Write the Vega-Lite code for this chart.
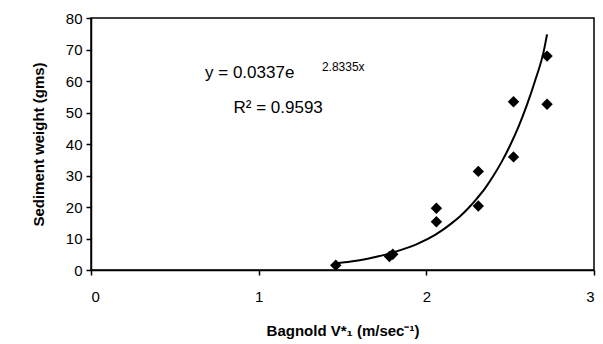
{
  "$schema": "https://vega.github.io/schema/vega-lite/v6.json",
  "autosize": "none",
  "padding": {"left": 91, "top": 18, "right": 9, "bottom": 74},
  "width": 503,
  "height": 252,
  "background": "white",
  "config": {
    "view": {"stroke": "black", "strokeWidth": 1.5},
    "font": "Liberation Sans",
    "axis": {
      "domainColor": "black", "domainWidth": 1.5, "tickColor": "black", "tickWidth": 1.5, "tickSize": 5,
      "labelColor": "black", "labelFontSize": 15, "labelFont": "Liberation Sans", "labelOverlap": false,
      "titleColor": "black", "titleFontSize": 15, "titleFontWeight": "bold", "titleFont": "Liberation Sans",
      "grid": false
    }
  },
  "datasets": {
    "points": [
      {"v": 1.46, "w": 1.5},
      {"v": 1.78, "w": 4.3},
      {"v": 1.80, "w": 5.0},
      {"v": 2.06, "w": 19.6},
      {"v": 2.06, "w": 15.3},
      {"v": 2.31, "w": 31.3},
      {"v": 2.31, "w": 20.3},
      {"v": 2.52, "w": 53.4},
      {"v": 2.52, "w": 35.9},
      {"v": 2.72, "w": 67.9},
      {"v": 2.72, "w": 52.6}
    ],
    "trend": [
      {"v": 1.46, "w": 2.1},
      {"v": 1.55, "w": 2.7},
      {"v": 1.65, "w": 3.6},
      {"v": 1.75, "w": 4.8},
      {"v": 1.85, "w": 6.4},
      {"v": 1.95, "w": 8.4},
      {"v": 2.05, "w": 11.1},
      {"v": 2.10, "w": 12.8},
      {"v": 2.15, "w": 14.8},
      {"v": 2.20, "w": 17.0},
      {"v": 2.25, "w": 19.6},
      {"v": 2.30, "w": 22.6},
      {"v": 2.35, "w": 25.9},
      {"v": 2.40, "w": 29.9},
      {"v": 2.45, "w": 34.4},
      {"v": 2.50, "w": 39.6},
      {"v": 2.55, "w": 45.5},
      {"v": 2.60, "w": 52.4},
      {"v": 2.65, "w": 60.3},
      {"v": 2.70, "w": 69.4},
      {"v": 2.72, "w": 74.8}
    ]
  },
  "layer": [
    {
      "data": {"name": "trend"},
      "mark": {"type": "line", "color": "black", "strokeWidth": 2, "interpolate": "monotone"},
      "encoding": {
        "x": {"field": "v", "type": "quantitative", "scale": {"domain": [0, 3], "nice": false},
              "axis": {"values": [0, 1, 2, 3], "format": "d", "labelPadding": 14, "title": "Bagnold V*₁ (m/sec⁻¹)", "titlePadding": 19}},
        "y": {"field": "w", "type": "quantitative", "scale": {"domain": [0, 80], "nice": false},
              "axis": {"values": [0, 10, 20, 30, 40, 50, 60, 70, 80], "format": "d", "labelPadding": 4, "title": "Sediment weight (gms)", "titlePadding": 19}}
      }
    },
    {
      "data": {"name": "points"},
      "mark": {"type": "point", "shape": "diamond", "filled": true, "color": "black", "size": 130, "opacity": 1},
      "encoding": {
        "x": {"field": "v", "type": "quantitative",
              "axis": {"values": [0, 1, 2, 3], "format": "d", "labelPadding": 14, "title": "Bagnold V*₁ (m/sec⁻¹)", "titlePadding": 19}},
        "y": {"field": "w", "type": "quantitative",
              "axis": {"values": [0, 10, 20, 30, 40, 50, 60, 70, 80], "format": "d", "labelPadding": 4, "title": "Sediment weight (gms)", "titlePadding": 19}}
      }
    },
    {
      "data": {"values": [{"t": "y = 0.0337e"}]},
      "mark": {"type": "text", "align": "left", "baseline": "middle", "fontSize": 17, "color": "black"},
      "encoding": {
        "x": {"datum": 0.68, "type": "quantitative",
              "axis": {"values": [0, 1, 2, 3], "format": "d", "labelPadding": 14, "title": "Bagnold V*₁ (m/sec⁻¹)", "titlePadding": 19}},
        "y": {"datum": 62.5, "type": "quantitative",
              "axis": {"values": [0, 10, 20, 30, 40, 50, 60, 70, 80], "format": "d", "labelPadding": 4, "title": "Sediment weight (gms)", "titlePadding": 19}},
        "text": {"field": "t"}}
    },
    {
      "data": {"values": [{"t": "2.8335x"}]},
      "mark": {"type": "text", "align": "left", "baseline": "middle", "fontSize": 12, "color": "black"},
      "encoding": {
        "x": {"datum": 1.377, "type": "quantitative",
              "axis": {"values": [0, 1, 2, 3], "format": "d", "labelPadding": 14, "title": "Bagnold V*₁ (m/sec⁻¹)", "titlePadding": 19}},
        "y": {"datum": 64.4, "type": "quantitative",
              "axis": {"values": [0, 10, 20, 30, 40, 50, 60, 70, 80], "format": "d", "labelPadding": 4, "title": "Sediment weight (gms)", "titlePadding": 19}},
        "text": {"field": "t"}}
    },
    {
      "data": {"values": [{"t": "R² = 0.9593"}]},
      "mark": {"type": "text", "align": "left", "baseline": "middle", "fontSize": 17, "color": "black"},
      "encoding": {
        "x": {"datum": 0.85, "type": "quantitative",
              "axis": {"values": [0, 1, 2, 3], "format": "d", "labelPadding": 14, "title": "Bagnold V*₁ (m/sec⁻¹)", "titlePadding": 19}},
        "y": {"datum": 51.5, "type": "quantitative",
              "axis": {"values": [0, 10, 20, 30, 40, 50, 60, 70, 80], "format": "d", "labelPadding": 4, "title": "Sediment weight (gms)", "titlePadding": 19}},
        "text": {"field": "t"}}
    }
  ]
}
